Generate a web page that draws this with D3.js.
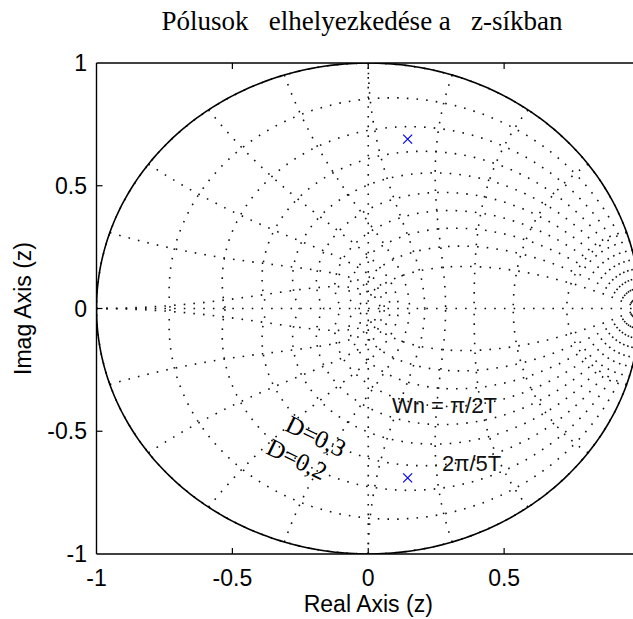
<!DOCTYPE html>
<html>
<head>
<meta charset="utf-8">
<script src="https://cdn.jsdelivr.net/npm/d3@7"></script>
<style>
  body { margin: 0; background: #fff; }
  svg { display: block; }
</style>
</head>
<body>
<svg width="633" height="619"></svg>
<script>
// damping ratios and natural frequencies (wn in units of pi/T) of the zgrid
const zetaValues = [0, 0.1, 0.2, 0.3, 0.4, 0.5, 0.6, 0.7, 0.8, 0.9];
const wnValues = [0.1, 0.2, 0.3, 0.4, 0.5, 0.6, 0.7, 0.8, 0.9, 1.0];

// poles
const poleRe = [0.145, 0.145];
const poleIm = [0.69, -0.69];

const xTicks = [-1, -0.5, 0, 0.5];
const yTicks = [-1, -0.5, 0, 0.5, 1];

const svg = d3.select("svg");

const x = d3.scaleLinear().domain([-1, 1]).range([96.5, 640]);
const y = d3.scaleLinear().domain([-1, 1]).range([554, 63]);

svg.append("defs").append("clipPath").attr("id", "plot")
  .append("rect")
  .attr("x", x(-1)).attr("y", y(1))
  .attr("width", x(1) - x(-1)).attr("height", y(-1) - y(1));

const line = d3.line().x(d => x(d[0])).y(d => y(d[1]));

// zeta curves: z = exp(t(-m + j)), t in [0, pi]
function zetaCurve(zeta, sign) {
  const m = Math.tan(Math.asin(zeta));
  return d3.range(0, 51).map(i => {
    const t = Math.PI * i / 50;
    const r = Math.exp(-m * t);
    return [r * Math.cos(t), sign * r * Math.sin(t)];
  });
}

// wn curves: z = exp(wn*pi*e^(j th)), th in [pi/2, pi]
function wnCurve(wn, sign) {
  return d3.range(0, 51).map(i => {
    const th = Math.PI / 2 + (Math.PI / 2) * i / 50;
    const r = Math.exp(wn * Math.PI * Math.cos(th));
    const a = wn * Math.PI * Math.sin(th);
    return [r * Math.cos(a), sign * r * Math.sin(a)];
  });
}

const grid = svg.append("g").attr("clip-path", "url(#plot)")
  .attr("fill", "none")
  .attr("stroke", "#111")
  .attr("stroke-width", 1.6)
  .attr("stroke-dasharray", "1.6 8.1");

const curves = [];
zetaValues.forEach(z => { curves.push(zetaCurve(z, 1)); curves.push(zetaCurve(z, -1)); });
wnValues.forEach(w => { curves.push(wnCurve(w, 1)); curves.push(wnCurve(w, -1)); });

grid.selectAll("path.grid")
  .data(curves)
  .enter().append("path")
  .attr("class", "grid")
  .attr("d", line);

// dotted axis lines through the origin
grid.append("line")
  .attr("x1", x(-1)).attr("x2", x(1)).attr("y1", y(0)).attr("y2", y(0));
grid.append("line")
  .attr("x1", x(0)).attr("x2", x(0)).attr("y1", y(-1)).attr("y2", y(1));

// unit circle
svg.append("path")
  .attr("clip-path", "url(#plot)")
  .datum(d3.range(0, 361).map(i => [Math.cos(i * Math.PI / 180), Math.sin(i * Math.PI / 180)]))
  .attr("d", line)
  .attr("fill", "none")
  .attr("stroke", "#000")
  .attr("stroke-width", 1.6);

// poles
const poles = poleRe.map((re, i) => ({ re, im: poleIm[i] }));
svg.append("g").selectAll("path.pole")
  .data(poles)
  .enter().append("path")
  .attr("class", "pole")
  .attr("d", d => {
    const cx = x(d.re), cy = y(d.im), s = 4.5;
    return `M${cx - s},${cy - s}L${cx + s},${cy + s}M${cx - s},${cy + s}L${cx + s},${cy - s}`;
  })
  .attr("stroke", "#0000ff")
  .attr("stroke-width", 1.2);

// axes box and inward ticks
const axisColor = "#000";
svg.append("line").attr("x1", x(-1)).attr("x2", x(-1)).attr("y1", y(1)).attr("y2", y(-1))
  .attr("stroke", axisColor).attr("stroke-width", 1.4);
svg.append("line").attr("x1", x(-1)).attr("x2", x(1)).attr("y1", y(1)).attr("y2", y(1))
  .attr("stroke", axisColor).attr("stroke-width", 1.4);
svg.append("line").attr("x1", x(-1)).attr("x2", x(1)).attr("y1", y(-1)).attr("y2", y(-1))
  .attr("stroke", axisColor).attr("stroke-width", 1.4);

const ticks = svg.append("g").attr("stroke", axisColor).attr("stroke-width", 1.2);
xTicks.filter(v => v > -1).forEach(v => {
  ticks.append("line").attr("x1", x(v)).attr("x2", x(v)).attr("y1", y(-1)).attr("y2", y(-1) - 6);
  ticks.append("line").attr("x1", x(v)).attr("x2", x(v)).attr("y1", y(1)).attr("y2", y(1) + 6);
});
yTicks.filter(v => v > -1 && v < 1).forEach(v => {
  ticks.append("line").attr("x1", x(-1)).attr("x2", x(-1) + 6).attr("y1", y(v)).attr("y2", y(v));
});

const sans = "'Liberation Sans', Arial, sans-serif";
const serif = "'Liberation Serif', 'Times New Roman', serif";

svg.append("g").selectAll("text")
  .data(xTicks)
  .enter().append("text")
  .attr("x", d => x(d)).attr("y", 586)
  .attr("text-anchor", "middle")
  .attr("font-family", sans).attr("font-size", 23)
  .text(d => d);

svg.append("g").selectAll("text")
  .data(yTicks)
  .enter().append("text")
  .attr("x", 87).attr("y", d => y(d) + 8)
  .attr("text-anchor", "end")
  .attr("font-family", sans).attr("font-size", 23)
  .text(d => d);

svg.append("text")
  .attr("x", x(0)).attr("y", 612)
  .attr("text-anchor", "middle")
  .attr("font-family", sans).attr("font-size", 23)
  .text("Real Axis (z)");

svg.append("text")
  .attr("transform", `translate(31,${y(0)}) rotate(-90)`)
  .attr("text-anchor", "middle")
  .attr("font-family", sans).attr("font-size", 23)
  .text("Imag Axis (z)");

svg.append("text")
  .attr("x", 362).attr("y", 30)
  .attr("text-anchor", "middle")
  .attr("font-family", serif).attr("font-size", 27)
  .style("white-space", "pre")
  .text("Pólusok   elhelyezkedése a   z-síkban");

// annotations
const slanted = [
  { label: "D=0,3", cx: 316, cy: 436 },
  { label: "D=0,2", cx: 297, cy: 459 }
];
svg.append("g").selectAll("text")
  .data(slanted)
  .enter().append("text")
  .attr("transform", d => `translate(${d.cx},${d.cy}) rotate(26)`)
  .attr("dy", "0.35em")
  .attr("text-anchor", "middle")
  .attr("font-family", serif).attr("font-size", 25)
  .text(d => d.label);

svg.append("text")
  .attr("x", 392).attr("y", 413)
  .attr("font-family", sans).attr("font-size", 22)
  .attr("fill", "#111")
  .text("Wn = π/2T");

svg.append("text")
  .attr("x", 442).attr("y", 471)
  .attr("font-family", sans).attr("font-size", 22)
  .attr("fill", "#111")
  .text("2π/5T");
</script>
</body>
</html>
